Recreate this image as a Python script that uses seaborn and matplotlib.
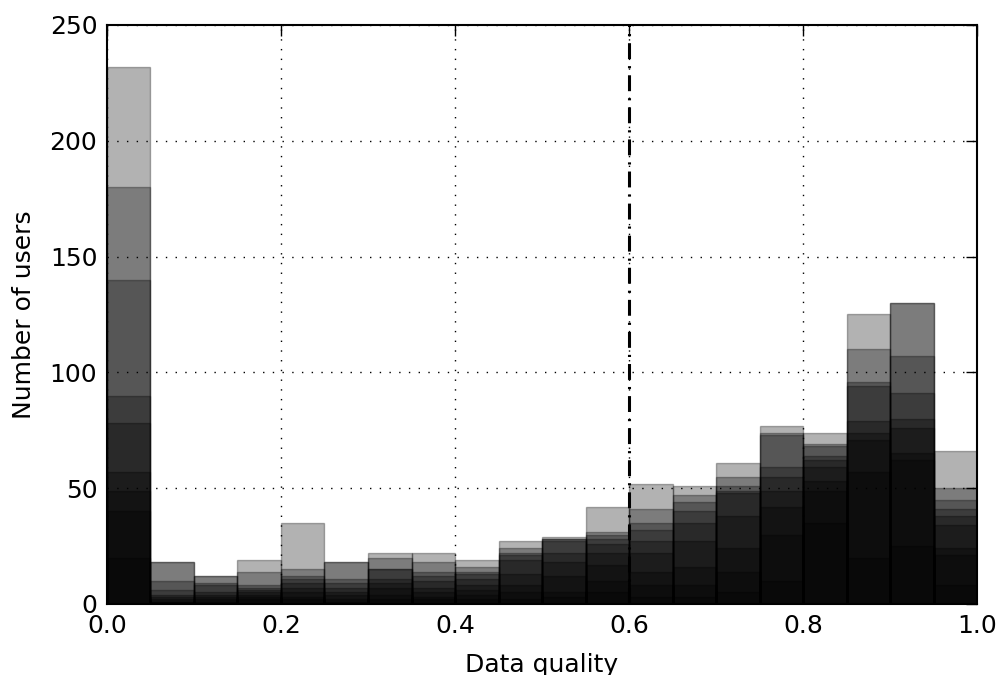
import numpy as np
import pandas as pd
import matplotlib
matplotlib.use("Agg")
import matplotlib.pyplot as plt
import seaborn as sns

# Histogram bins (data quality 0..1, width 0.05)
bin_edges = np.linspace(0.0, 1.0, 21)
bin_centers = (bin_edges[:-1] + bin_edges[1:]) / 2

# Per-bin user counts for each overlaid (nested) group
layer1 = [232, 18, 12, 19, 35, 18, 22, 22, 19, 27, 29, 42, 52, 51, 61, 77, 74, 125, 130, 66]
layer2 = [180, 18, 12, 14, 15, 18, 20, 18, 16, 24, 28, 31, 41, 47, 55, 74, 69, 110, 130, 50]
layer3 = [140, 10, 9, 8, 12, 11, 15, 14, 14, 22, 28, 30, 35, 44, 51, 73, 68, 96, 107, 45]
layer4 = [90, 6, 8, 7, 11, 9, 15, 12, 13, 21, 27, 28, 32, 40, 49, 59, 64, 94, 91, 41]
layer5 = [78, 4, 5, 6, 9, 7, 11, 10, 11, 19, 22, 26, 27, 35, 48, 55, 62, 79, 80, 38]
layer6 = [57, 3, 4, 5, 7, 5, 9, 7, 8, 13, 18, 22, 22, 27, 38, 49, 59, 74, 76, 34]
layer7 = [49, 2, 3, 4, 5, 4, 7, 5, 6, 8, 12, 17, 14, 16, 24, 42, 53, 71, 65, 24]
layer8 = [40, 1, 2, 3, 3, 2, 4, 3, 4, 5, 5, 10, 8, 8, 14, 30, 49, 57, 62, 21]
layer9 = [20, 1, 1, 2, 2, 1, 2, 2, 2, 2, 3, 5, 3, 3, 5, 10, 35, 20, 25, 8]
layers = [layer1, layer2, layer3, layer4, layer5, layer6, layer7, layer8, layer9]

threshold = 0.6

x_ticks = [0.0, 0.2, 0.4, 0.6, 0.8, 1.0]
y_ticks = [0, 50, 100, 150, 200, 250]

sns.set_style("white")
plt.rcParams["font.family"] = ["DejaVu Sans"]
plt.rcParams["text.color"] = "black"
plt.rcParams["axes.labelcolor"] = "black"
plt.rcParams["xtick.color"] = "black"
plt.rcParams["ytick.color"] = "black"

fig = plt.figure(figsize=(9.98, 6.75), dpi=100)
ax = fig.add_axes([0.1072, 0.1052, 0.8718, 0.8578])

for layer in layers:
    df = pd.DataFrame({"quality": bin_centers, "users": layer})
    sns.histplot(data=df, x="quality", weights="users", bins=list(bin_edges),
                 ax=ax, color="black", alpha=0.3, edgecolor=(0, 0, 0, 0.3),
                 linewidth=1.0)

ax.axvline(threshold, color="black", linestyle="-.", linewidth=2.2,
           dashes=(5.2, 2.3, 0.7, 2.3), zorder=5)

ax.set_xlim(0, 1)
ax.set_ylim(0, 250)
ax.set_xticks(x_ticks)
ax.set_xticklabels([f"{t:.1f}" for t in x_ticks])
ax.set_yticks(y_ticks)
ax.set_yticklabels([str(t) for t in y_ticks])

ax.set_axisbelow(False)
ax.grid(True, color="black", linestyle=(0, (1, 6)), linewidth=1.0)

ax.tick_params(direction="in", length=8, width=1, top=True, right=True,
               labelsize=18, pad=7, colors="black")
for s in ax.spines.values():
    s.set_visible(True)
    s.set_color("black")
    s.set_linewidth(1.5)
    s.set_zorder(6)

ax.set_xlabel("Data quality", fontsize=18, labelpad=11, color="black")
ax.set_ylabel("Number of users", fontsize=18, labelpad=10, color="black")

fig.savefig("out.png", dpi=100)
